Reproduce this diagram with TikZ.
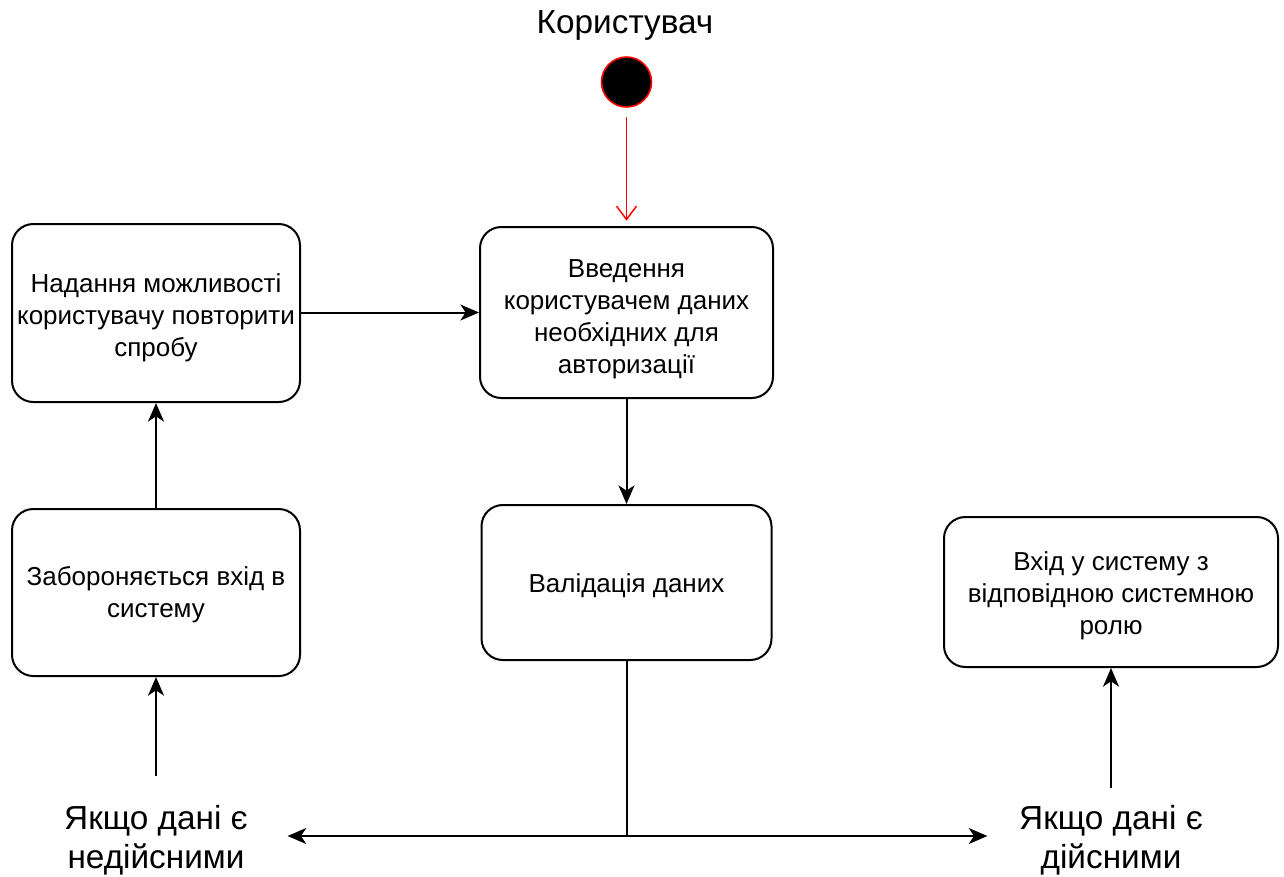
\documentclass[tikz,border=0pt]{standalone}
\usepackage{fontspec}
\setmainfont{Liberation Sans}
\usetikzlibrary{arrows.meta}
% invisible strut that pushes the first text line of a state down
\newcommand\topgap[1]{\rule{0pt}{#1}}
\begin{document}
\begin{tikzpicture}[x=0.75pt,y=-0.75pt,
  state/.style={draw, line width=1.5pt, rounded corners=16pt, align=center,
    inner sep=0pt, font=\fontsize{19.5}{24}\selectfont},
  biglabel/.style={align=center, inner sep=0pt, font=\fontsize{25}{29.25}\selectfont},
  start/.style={circle, fill=black, draw=red, line width=1.2pt, minimum size=37.5pt, inner sep=0pt},
  flow/.style={line width=1.5pt, -{Stealth[length=14pt,width=12pt,inset=4pt]}},
  initflow/.style={red, line width=1.1pt, -{Straight Barb[length=10pt,width=15pt]}}
]
\useasboundingbox (0,0) rectangle (1284,876);

% title and initial state
\node[biglabel] (title) at (625,25) {Користувач};
\node[start] (init) at (626.5,82) {};

% states
\node[state, minimum width=216pt, minimum height=133.5pt] (retry) at (156,313)
  {\topgap{21.2pt}Надання можливості\\користувачу повторити\\спробу};
\node[state, minimum width=219.75pt, minimum height=128.25pt] (input) at (626.5,312.5)
  {\topgap{23.8pt}Введення\\користувачем даних\\необхідних для\\авторизації};
\node[state, minimum width=217.5pt, minimum height=116.25pt] (validate) at (626.5,582.5)
  {\topgap{18.7pt}Валідація даних};
\node[state, minimum width=216pt, minimum height=125.25pt] (deny) at (156,592.5)
  {\topgap{17.8pt}Забороняється вхід в\\систему};
\node[state, minimum width=250.5pt, minimum height=112.5pt] (enter) at (1111,592)
  {\topgap{20.2pt}Вхід у систему з\\відповідною системною\\ролю};

% guard labels
\node[biglabel, minimum width=197pt] (invalid) at (156,840) {Якщо дані є\\недійсними};
\node[biglabel, minimum width=185pt] (valid) at (1111,840) {Якщо дані є\\дійсними};

% transitions
\draw[initflow, shorten <=7pt, shorten >=4pt] (init) -- (input.north);
\draw[flow] (retry.east |- input.west) -- (input.west);
\draw[flow] (input) -- (validate);
\draw[flow] (validate.south) |- ([yshift=3pt]invalid.east);
\draw[flow] (validate.south) |- ([yshift=3pt]valid.west);
\draw[flow, shorten <=21.4pt] (invalid.north) -- (deny.south);
\draw[flow, shorten <=12.4pt] (valid.north) -- (enter.south);
\draw[flow] (deny) -- (retry);
\end{tikzpicture}
\end{document}
